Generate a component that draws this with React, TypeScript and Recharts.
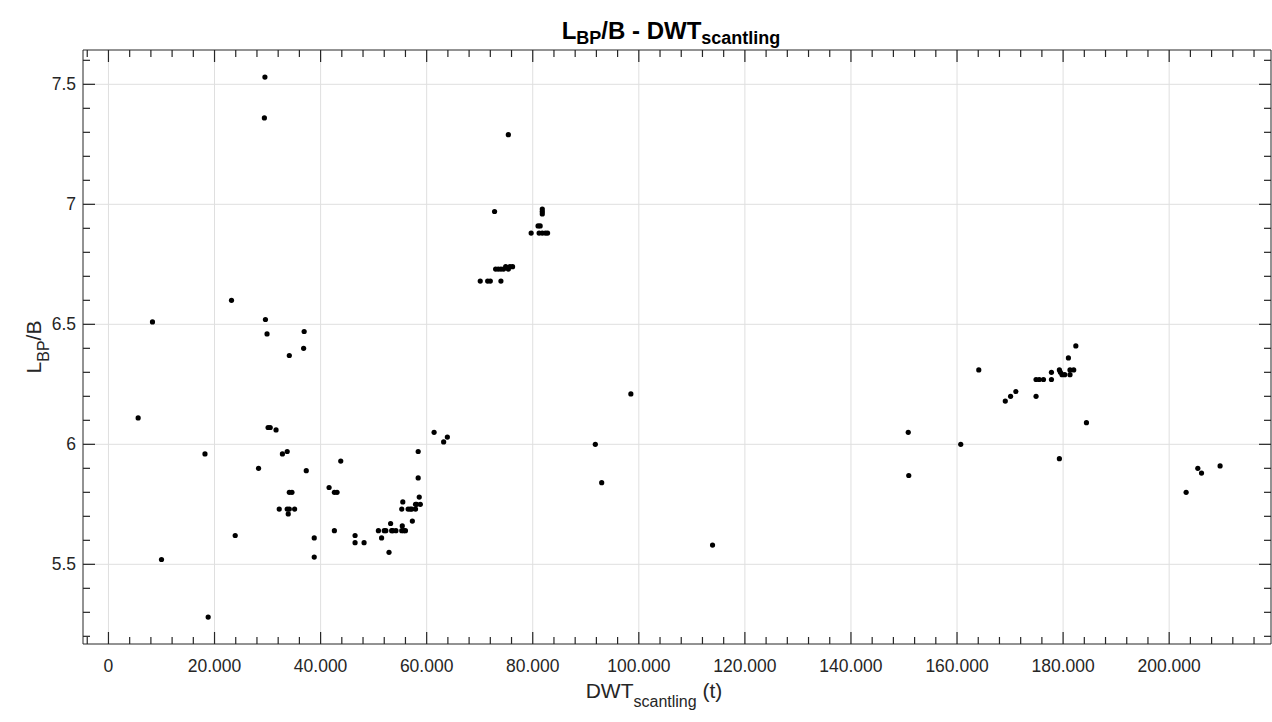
import { CartesianGrid, ReferenceArea, Scatter, ScatterChart, XAxis, YAxis } from "recharts";

// DWT (t) and L_BP/B
const smallDwt = [
  29500, 29400, 23200, 29600, 8300, 29900, 36900, 36800, 34100, 5600, 30100, 30500, 31600, 18200, 32800,
  33700, 28300, 37300, 43800, 58400, 61400, 63200, 63900, 34100, 34600, 41600, 42600, 43100, 32200, 33700,
  34100, 35100, 33900, 23900, 38800, 38800, 42600, 46500, 46500, 48200, 10000, 18800, 50900, 52000, 52300,
  51500, 52900, 53200, 53400, 53600, 54200, 55300, 55500, 55400, 55300, 55700, 56000, 56500, 56900, 57200,
  57900, 57300, 57900, 58100, 58800, 58600, 58400,
];
const smallRatio = [
  7.53, 7.36, 6.6, 6.52, 6.51, 6.46, 6.47, 6.4, 6.37, 6.11, 6.07, 6.07, 6.06, 5.96, 5.96,
  5.97, 5.9, 5.89, 5.93, 5.97, 6.05, 6.01, 6.03, 5.8, 5.8, 5.82, 5.8, 5.8, 5.73, 5.73,
  5.73, 5.73, 5.71, 5.62, 5.61, 5.53, 5.64, 5.62, 5.59, 5.59, 5.52, 5.28, 5.64, 5.64, 5.64,
  5.61, 5.55, 5.67, 5.64, 5.64, 5.64, 5.73, 5.76, 5.66, 5.64, 5.64, 5.64, 5.73, 5.73, 5.73,
  5.73, 5.68, 5.75, 5.75, 5.75, 5.78, 5.86,
];

const midDwt = [
  70100, 71500, 72000, 74000, 73000, 73500, 74000, 74500, 74900, 75400, 75700, 76200, 72800, 75400,
  81800, 81800, 81800, 81000, 81400, 79700, 81200, 81800, 82400, 82800, 98500, 91800, 93000, 113900,
];
const midRatio = [
  6.68, 6.68, 6.68, 6.68, 6.73, 6.73, 6.73, 6.73, 6.74, 6.73, 6.74, 6.74, 6.97, 7.29,
  6.98, 6.97, 6.96, 6.91, 6.91, 6.88, 6.88, 6.88, 6.88, 6.88, 6.21, 6.0, 5.84, 5.58,
];

const largeDwt = [
  150800, 150900, 160700, 164100, 169100, 170100, 171100, 174900, 174900, 175500, 176300, 177800, 177800,
  179300, 179500, 179800, 180300, 181300, 181300, 182000, 181000, 182400, 184400, 179300, 203200, 205400,
  206100, 209600,
];
const largeRatio = [
  6.05, 5.87, 6.0, 6.31, 6.18, 6.2, 6.22, 6.2, 6.27, 6.27, 6.27, 6.27, 6.3,
  6.31, 6.3, 6.29, 6.29, 6.29, 6.31, 6.31, 6.36, 6.41, 6.09, 5.94, 5.8, 5.9,
  5.88, 5.91,
];

const xMajor = [0, 20000, 40000, 60000, 80000, 100000, 120000, 140000, 160000, 180000, 200000];
const yMajor = [5.5, 6, 6.5, 7, 7.5];
const xTicks = Array.from({ length: 56 }, (_, i) => -4000 + i * 4000);
const yTicks = Array.from({ length: 25 }, (_, i) => Math.round((5.2 + i * 0.1) * 10) / 10);

const X_MIN = -4800;
const X_MAX = 219200;
const Y_MIN = 5.168;
const Y_MAX = 7.643;

const W = 1272;
const H = 722;
const PLOT_LEFT = 83;
const PLOT_RIGHT = 1271;
const PLOT_TOP = 50;
const PLOT_BOTTOM = 644;
const INK = "#262626";
const FONT = "'Liberation Sans', Arial, sans-serif";

const toPoints = (xs: number[], ys: number[]) => xs.map((x, i) => ({ x, y: ys[i] }));
const smallShips = toPoints(smallDwt, smallRatio);
const midShips = toPoints(midDwt, midRatio);
const largeShips = toPoints(largeDwt, largeRatio);

const fmtThousands = (v: number) => String(v).replace(/\B(?=(\d{3})+(?!\d))/g, ".");

function XTick(props: any) {
  const { x, payload } = props;
  const v = payload.value;
  const major = v % 20000 === 0;
  const len = major ? 12 : 7;
  return (
    <g>
      <line x1={x} x2={x} y1={PLOT_BOTTOM} y2={PLOT_BOTTOM - len} stroke={INK} strokeWidth={1.2} />
      <line x1={x} x2={x} y1={PLOT_TOP} y2={PLOT_TOP + len} stroke={INK} strokeWidth={1.2} />
      {major && (
        <text x={x} y={PLOT_BOTTOM + 28} textAnchor="middle" fontSize={17.5} fill={INK} fontFamily={FONT}>
          {fmtThousands(v)}
        </text>
      )}
    </g>
  );
}

function YTick(props: any) {
  const { y, payload } = props;
  const v = payload.value;
  const major = Math.abs(v * 2 - Math.round(v * 2)) < 1e-6;
  const len = major ? 12 : 7;
  return (
    <g>
      <line x1={PLOT_LEFT} x2={PLOT_LEFT + len} y1={y} y2={y} stroke={INK} strokeWidth={1.2} />
      <line x1={PLOT_RIGHT} x2={PLOT_RIGHT - len} y1={y} y2={y} stroke={INK} strokeWidth={1.2} />
      {major && (
        <text x={PLOT_LEFT - 7} y={y} dy="0.35em" textAnchor="end" fontSize={17.5} fill={INK} fontFamily={FONT}>
          {String(v)}
        </text>
      )}
    </g>
  );
}

const dot = (p: any) => <circle cx={p.cx} cy={p.cy} r={2.6} fill="#000" />;

export default function App() {
  return (
    <div style={{ position: "fixed", left: 0, top: 0, width: W, height: H, background: "#fff" }}>
      <ScatterChart
        width={W}
        height={H}
        margin={{ top: PLOT_TOP, right: W - PLOT_RIGHT, bottom: H - PLOT_BOTTOM - 30, left: PLOT_LEFT - 60 }}
      >
        <CartesianGrid horizontalValues={yMajor} verticalValues={xMajor} stroke="#dfdfdf" strokeWidth={1} />
        <XAxis
          type="number"
          dataKey="x"
          domain={[X_MIN, X_MAX]}
          allowDataOverflow
          ticks={xTicks}
          interval={0}
          tick={(p: any) => <XTick {...p} />}
          tickLine={false}
          axisLine={false}
          height={30}
        />
        <YAxis
          type="number"
          dataKey="y"
          domain={[Y_MIN, Y_MAX]}
          allowDataOverflow
          ticks={yTicks}
          interval={0}
          tick={(p: any) => <YTick {...p} />}
          tickLine={false}
          axisLine={false}
          width={60}
        />
        <Scatter data={smallShips} shape={dot} isAnimationActive={false} />
        <Scatter data={midShips} shape={dot} isAnimationActive={false} />
        <Scatter data={largeShips} shape={dot} isAnimationActive={false} />
        <ReferenceArea x1={X_MIN} x2={X_MAX} y1={Y_MIN} y2={Y_MAX} fill="none" stroke={INK} strokeWidth={1} />
      </ScatterChart>

      <svg width={W} height={H} style={{ position: "absolute", left: 0, top: 0, pointerEvents: "none" }}>
        <text x={671} y={39} textAnchor="middle" fontFamily={FONT} fontWeight="bold" fontSize={24} fill="#000">
          <tspan>L</tspan>
          <tspan dy={5} fontSize={18}>BP</tspan>
          <tspan dy={-5}>/B - DWT</tspan>
          <tspan dy={5} fontSize={18}>scantling</tspan>
        </text>
        <text x={654} y={698} textAnchor="middle" fontFamily={FONT} fontSize={21} fill={INK}>
          <tspan>DWT</tspan>
          <tspan dy={9} fontSize={16}>scantling</tspan>
          <tspan dy={-9}> (t)</tspan>
        </text>
        <text
          transform={`translate(41, ${(PLOT_TOP + PLOT_BOTTOM) / 2}) rotate(-90)`}
          textAnchor="middle"
          fontFamily={FONT}
          fontSize={21}
          fill={INK}
        >
          <tspan>L</tspan>
          <tspan dy={8} fontSize={16}>BP</tspan>
          <tspan dy={-8}>/B</tspan>
        </text>
      </svg>
    </div>
  );
}
